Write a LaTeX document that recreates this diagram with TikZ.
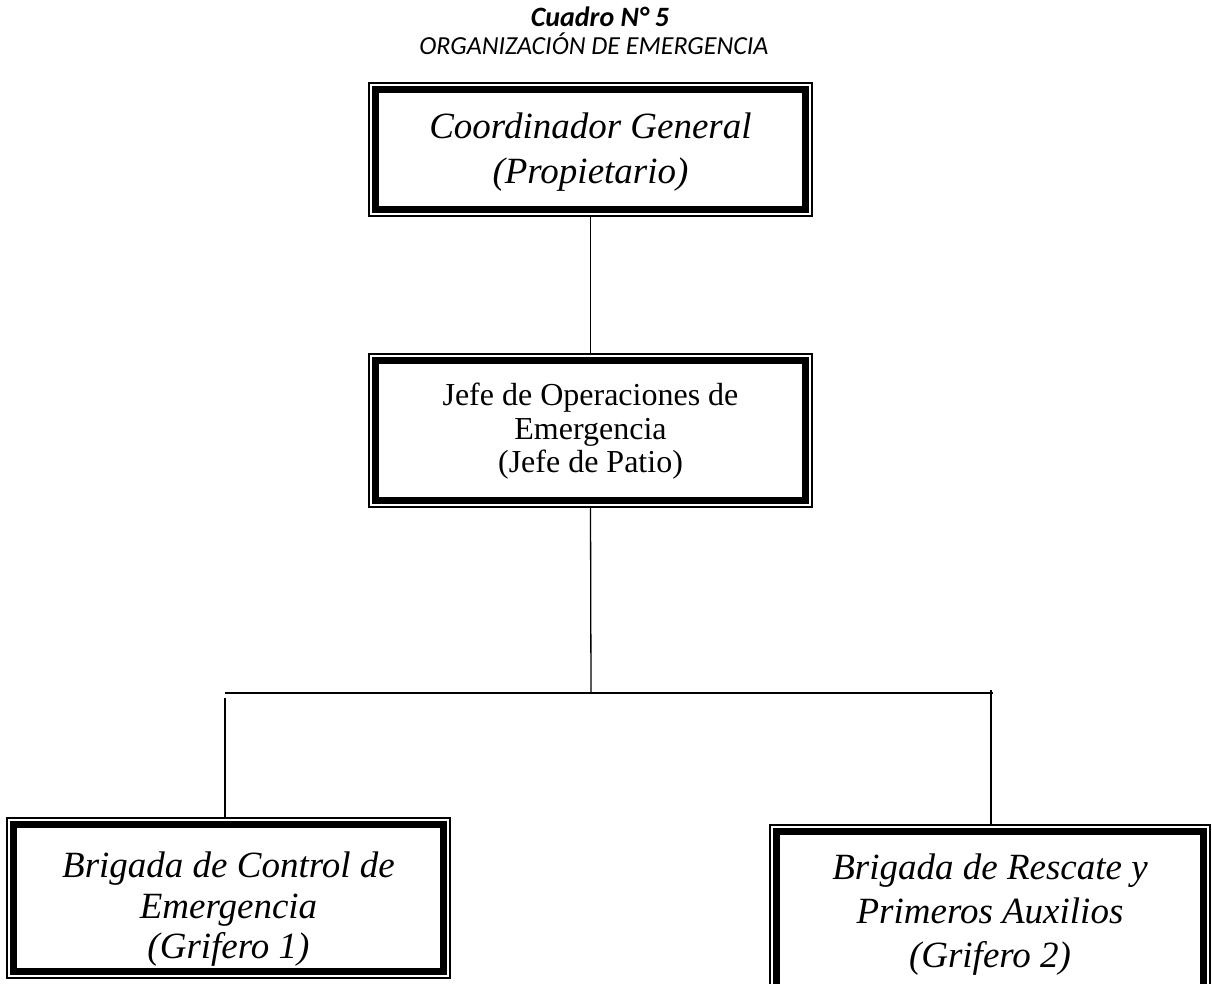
\documentclass[tikz,border=0pt]{standalone}
\usepackage{fontspec}
\setmainfont{Liberation Serif}
\newfontfamily\calibri{Carlito}
\usetikzlibrary{positioning,calc}
\newcommand{\lowered}[2]{\raisebox{-#1}[\height][\depth]{\begin{tabular}{@{}c@{}}#2\end{tabular}}}

\begin{document}
\begin{tikzpicture}[
  x=1pt, y=-1pt,
  post/.style={draw, line width=1.2pt, inner sep=0pt, align=center,
               minimum width=443pt},
  frame/.style={line width=7pt},
  conn/.style={line width=1.3pt},
  title/.style={font=\calibri\fontsize{26}{30}\selectfont\itshape},
]
\useasboundingbox (0,0) rectangle (1212,983);
\node[title,font=\calibri\fontsize{28}{30}\selectfont\itshape\bfseries] (cuadro) at (600,17) {Cuadro N° 5};
\node[title] (orgtit) at (594,44) {ORGANIZACIÓN DE EMERGENCIA};
\node[post,font=\fontsize{37}{45}\selectfont\itshape,minimum height=133pt] (coord) at (590.5,149.5)
  {\lowered{2pt}{Coordinador General\\(Propietario)}};
\node[post,font=\fontsize{32}{33.5}\selectfont,minimum height=153pt] (jefe) at (590.5,430.5)
  {\lowered{2pt}{Jefe de Operaciones de\\Emergencia\\(Jefe de Patio)}};
\node[post,font=\fontsize{37}{40.5}\selectfont\itshape,minimum height=160pt] (bcontrol) at (228.5,898)
  {\lowered{12pt}{Brigada de Control de\\Emergencia\\(Grifero 1)}};
\node[post,font=\fontsize{37}{44}\selectfont\itshape,minimum width=440pt,minimum height=170pt] (brescate) at (990,910)
  {\lowered{5pt}{Brigada de Rescate y\\Primeros Auxilios\\(Grifero 2)}};
\foreach \n in {coord,jefe,bcontrol,brescate}
  \draw[frame] ([shift={(7.5pt,-7.5pt)}]\n.north west) rectangle ([shift={(-7.5pt,7.5pt)}]\n.south east);
\coordinate (junc) at (591,693);
\coordinate (hleft) at (225,693);
\coordinate (hright) at (993,693);
\coordinate (lstart) at (225,698);
\coordinate (rstart) at (991,690);
\draw[conn] (coord.south) -- (jefe.north);
\draw[conn] (jefe.south) -- (junc);
\draw[conn] (hleft) -- (hright);
\draw[conn] (lstart) -- (lstart |- bcontrol.north);
\draw[conn] (rstart) -- (rstart |- brescate.north);
\end{tikzpicture}
\end{document}
